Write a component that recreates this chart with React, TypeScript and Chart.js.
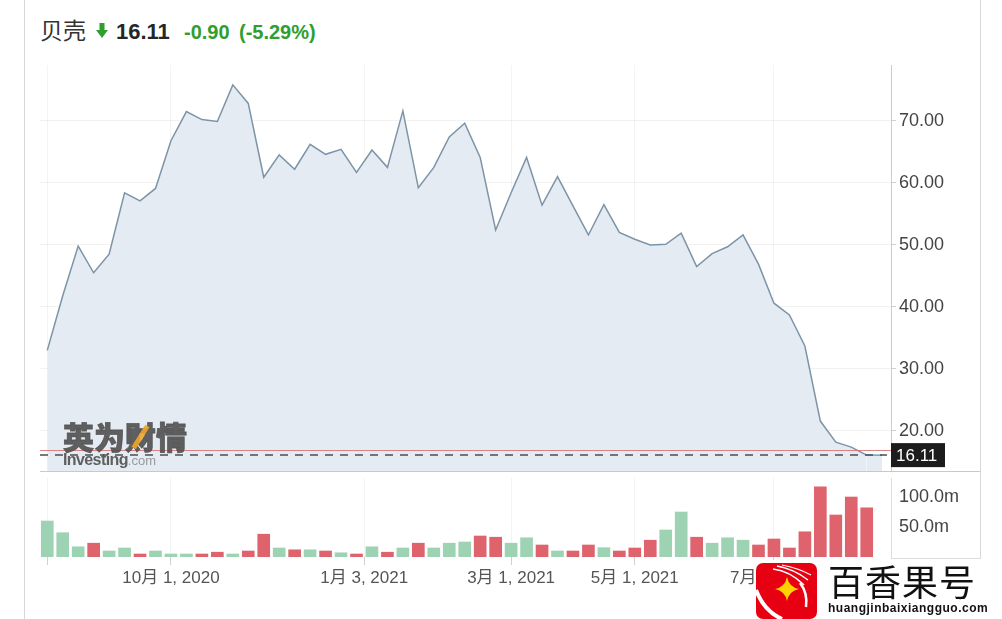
import React, { useEffect, useRef } from 'react';
import { Chart, registerables } from 'chart.js';

Chart.register(...registerables);

// ---- data ----
const STOCK_NAME = '贝壳';
const LAST_PRICE = 16.11;
const PREV_CLOSE = 17.01;
const CHANGE = -0.9;
const CHANGE_PCT = -5.29;

const PRICES = [
  33.0, 41.8, 49.8, 45.5, 48.5, 58.4, 57.1, 59.1, 66.8, 71.5,
  70.2, 69.9, 75.8, 72.8, 60.9, 64.5, 62.2, 66.2, 64.6, 65.4,
  61.7, 65.3, 62.5, 71.6, 59.2, 62.5, 67.4, 69.6, 64.1, 52.4,
  58.4, 64.1, 56.4, 61.0, 56.3, 51.6, 56.5, 52.0, 50.9, 50.0,
  50.1, 51.9, 46.5, 48.6, 49.7, 51.6, 46.9, 40.6, 38.7, 33.7,
  21.6, 18.2, 17.4, 16.11, 16.11,
];

const VOLUMES = [
  60, 40.5, 17, 23, 10, 15, 5, 10, 5, 5,
  5, 8, 5, 10, 38, 15, 12, 12, 10, 7,
  5, 17, 8, 15, 23, 15, 23, 25, 35, 33,
  23, 32, 20, 10, 10, 20, 15.5, 10, 15, 28,
  45, 75, 33, 23, 32, 28, 20, 30, 15, 42,
  117, 70, 100, 82,
];

const X_TICK_POS = [0, 8, 20.5, 30, 38, 47];
const X_TICK_LABELS = ['', '10月 1, 2020', '1月 3, 2021', '3月 1, 2021', '5月 1, 2021', '7月 1, 2021'];
const PRICE_TICKS = [20, 30, 40, 50, 60, 70];
const VOLUME_TICKS = [50, 100];

// ---- scale ranges / styling ----
const X_MIN = -0.47;
const X_MAX = 54.57;
const PRICE_MIN = 13.55;
const PRICE_MAX = 79.0;
const VOL_MAX = 131.7;

const FONT = "'Liberation Sans', Arial, 'Noto Sans CJK SC', sans-serif";
const CJK = "'Noto Sans CJK SC', 'Liberation Sans', sans-serif";
const GREEN_TXT = '#2f9e2f';
const UP_COLOR = '#9dd2b3';
const DOWN_COLOR = '#df636c';

const pricePlugin = {
  id: 'priceMarks',
  afterDatasetsDraw(chart: any) {
    const { ctx, chartArea: a } = chart;
    const y = chart.scales.y;
    ctx.save();
    const yr = Math.round(y.getPixelForValue(PREV_CLOSE)) + 0.5;
    ctx.strokeStyle = 'rgba(214,112,112,0.85)';
    ctx.lineWidth = 1;
    ctx.beginPath();
    ctx.moveTo(a.left, yr);
    ctx.lineTo(a.right, yr);
    ctx.stroke();
    const yl = y.getPixelForValue(LAST_PRICE);
    ctx.setLineDash([8, 7]);
    ctx.strokeStyle = '#4d4d4d';
    ctx.lineWidth = 1.5;
    ctx.beginPath();
    ctx.moveTo(a.left, yl);
    ctx.lineTo(a.right - 4, yl);
    ctx.stroke();
    ctx.setLineDash([]);
    ctx.strokeStyle = '#c9c9c9';
    ctx.lineWidth = 1;
    ctx.beginPath();
    ctx.moveTo(a.left, Math.round(a.bottom) + 0.5);
    ctx.lineTo(chart.width, Math.round(a.bottom) + 0.5);
    ctx.stroke();
    ctx.fillStyle = '#1c1c1c';
    ctx.fillRect(a.right, yl - 12, 54, 24);
    ctx.fillStyle = '#ffffff';
    ctx.font = `17px ${FONT}`;
    ctx.textAlign = 'left';
    ctx.textBaseline = 'middle';
    ctx.fillText(LAST_PRICE.toFixed(2), a.right + 5, yl + 1);
    ctx.restore();
  },
};

function PriceChart() {
  const ref = useRef<HTMLCanvasElement>(null);
  useEffect(() => {
    if (!ref.current) return;
    const last = PRICES.length - 1;
    const chart = new Chart(ref.current, {
      type: 'line',
      data: {
        datasets: [
          {
            data: PRICES.map((v, i) => ({ x: i, y: v })),
            borderColor: '#7d94a7',
            borderWidth: 1.5,
            backgroundColor: '#e4ebf3',
            fill: 'start',
            pointRadius: 0,
            tension: 0,
            segment: {
              borderColor: (c: any) => (c.p1DataIndex === last ? '#5fa9b8' : undefined),
            },
          } as any,
        ],
      },
      options: {
        animation: false,
        responsive: false,
        events: [],
        layout: { padding: { top: 10, bottom: 2, left: 0, right: 0 } },
        plugins: { legend: { display: false }, tooltip: { enabled: false } },
        scales: {
          x: {
            type: 'linear',
            min: X_MIN,
            max: X_MAX,
            offset: false,
            afterBuildTicks: (s: any) => {
              s.ticks = X_TICK_POS.map((v) => ({ value: v }));
            },
            ticks: { display: false },
            grid: { color: 'rgba(0,0,0,0.045)', drawTicks: false },
            border: { display: false },
            afterFit: (s: any) => {
              s.height = 0;
              s.paddingLeft = 0;
              s.paddingRight = 0;
            },
          },
          y: {
            position: 'right',
            min: PRICE_MIN,
            max: PRICE_MAX,
            afterBuildTicks: (s: any) => {
              s.ticks = PRICE_TICKS.map((v) => ({ value: v }));
            },
            ticks: {
              callback: (v: any) => Number(v).toFixed(2),
              color: '#444',
              font: { size: 18, family: FONT },
              padding: 3,
            },
            grid: { color: 'rgba(0,0,0,0.05)', tickColor: '#d0d0d0', tickLength: 5 },
            border: { display: true, color: '#cccccc' },
            afterFit: (s: any) => {
              s.width = 89;
              s.paddingTop = 0;
              s.paddingBottom = 0;
            },
          },
        },
      } as any,
      plugins: [pricePlugin],
    });
    return () => chart.destroy();
  }, []);
  return (
    <canvas
      ref={ref}
      width={940}
      height={418}
      style={{ position: 'absolute', left: 40, top: 55, width: 940, height: 418 }}
    />
  );
}

function VolumeChart() {
  const ref = useRef<HTMLCanvasElement>(null);
  useEffect(() => {
    if (!ref.current) return;
    const colors = VOLUMES.map((_, i) => (i === 0 || PRICES[i] >= PRICES[i - 1] ? UP_COLOR : DOWN_COLOR));
    const chart = new Chart(ref.current, {
      type: 'bar',
      data: {
        datasets: [
          {
            data: VOLUMES.map((v, i) => ({ x: i, y: v })),
            backgroundColor: colors,
            borderWidth: 0,
            barThickness: 12,
          } as any,
        ],
      },
      options: {
        animation: false,
        responsive: false,
        events: [],
        layout: { padding: { top: 5, bottom: 0, left: 0, right: 0 } },
        plugins: { legend: { display: false }, tooltip: { enabled: false } },
        scales: {
          x: {
            type: 'linear',
            min: X_MIN,
            max: X_MAX,
            offset: false,
            afterBuildTicks: (s: any) => {
              s.ticks = X_TICK_POS.map((v) => ({ value: v }));
            },
            ticks: {
              callback: (_v: any, i: number) => X_TICK_LABELS[i],
              color: '#555',
              font: { size: 17, family: FONT },
              padding: 3,
              autoSkip: false,
              maxRotation: 0,
            },
            grid: { offset: false, color: 'rgba(0,0,0,0.045)', tickColor: '#d0d0d0', tickLength: 8 },
            border: { display: false },
            afterFit: (s: any) => {
              s.height = 62;
              s.paddingLeft = 0;
              s.paddingRight = 0;
            },
          },
          y: {
            position: 'right',
            min: 0,
            max: VOL_MAX,
            afterBuildTicks: (s: any) => {
              s.ticks = VOLUME_TICKS.map((v) => ({ value: v }));
            },
            ticks: {
              callback: (v: any) => Number(v).toFixed(1) + 'm',
              color: '#444',
              font: { size: 18, family: FONT },
              padding: 3,
            },
            grid: { color: 'rgba(0,0,0,0)', tickColor: 'rgba(0,0,0,0)', tickLength: 5 },
            border: { display: true, color: '#dddddd' },
            afterFit: (s: any) => {
              s.width = 89;
              s.paddingTop = 0;
              s.paddingBottom = 0;
            },
          },
        },
      } as any,
    });
    return () => chart.destroy();
  }, []);
  return (
    <canvas
      ref={ref}
      width={940}
      height={146}
      style={{ position: 'absolute', left: 40, top: 473, width: 940, height: 146 }}
    />
  );
}

function Logo() {
  return (
    <div style={{ position: 'absolute', left: 756, top: 560, width: 246, height: 59, background: '#fff' }}>
      <svg width="61" height="56" viewBox="0 0 61 56" style={{ position: 'absolute', left: 0, top: 3 }}>
        <rect x="0" y="0" width="61" height="56" rx="7" fill="#e60012" />
        <path d="M0 27 Q 8 48 26 56" stroke="#fff" strokeWidth="4" fill="none" />
        <path d="M17 6 Q 34 8 48 22" stroke="#fff" strokeWidth="1.6" fill="none" />
        <path d="M21 3 Q 38 6 52 17" stroke="#fff" strokeWidth="1.4" fill="none" />
        <path d="M26 2 Q 42 5 55 12" stroke="#fff" strokeWidth="1.2" fill="none" />
        <path d="M44 20 Q 52 30 50 44" stroke="#fff" strokeWidth="2.5" fill="none" />
        <path d="M31 14 Q 33 24 43 26 Q 33 28 31 38 Q 29 28 19 26 Q 29 24 31 14 Z" fill="#ffd200" />
      </svg>
      <div
        style={{
          position: 'absolute',
          left: 72,
          top: 2,
          fontFamily: CJK,
          fontSize: 36,
          lineHeight: 1,
          color: '#111',
          letterSpacing: 1,
        }}
      >
        百香果号
      </div>
      <div
        style={{
          position: 'absolute',
          left: 72,
          top: 42,
          fontFamily: FONT,
          fontSize: 12,
          fontWeight: 700,
          lineHeight: 1,
          color: '#111',
          letterSpacing: 0.5,
        }}
      >
        huangjinbaixiangguo.com
      </div>
    </div>
  );
}

export default function App() {
  const chg = CHANGE.toFixed(2);
  const pct = `(${CHANGE_PCT.toFixed(2)}%)`;
  return (
    <div
      style={{
        position: 'absolute',
        left: 0,
        top: 0,
        width: 1002,
        height: 619,
        overflow: 'hidden',
        background: '#fff',
        fontFamily: FONT,
      }}
    >
      <div style={{ position: 'absolute', left: 24, top: 0, width: 1, height: 619, background: '#d8d8d8' }} />
      <div style={{ position: 'absolute', left: 980, top: 0, width: 1, height: 559, background: '#d8d8d8' }} />
      <div style={{ position: 'absolute', left: 891, top: 558, width: 90, height: 1, background: '#dddddd' }} />

      <div style={{ position: 'absolute', left: 40, top: 18, fontFamily: CJK, fontSize: 23, lineHeight: 1, color: '#333' }}>
        {STOCK_NAME}
      </div>
      <svg width="12" height="15" viewBox="0 0 12 15" style={{ position: 'absolute', left: 96, top: 23 }}>
        <rect x="3.5" y="0" width="5" height="8" fill={GREEN_TXT} />
        <polygon points="0,7 12,7 6,15" fill={GREEN_TXT} />
      </svg>
      <div style={{ position: 'absolute', left: 116, top: 21, fontSize: 22, fontWeight: 700, lineHeight: 1, color: '#262626' }}>
        {LAST_PRICE.toFixed(2)}
      </div>
      <div style={{ position: 'absolute', left: 184, top: 22, fontSize: 20, fontWeight: 700, lineHeight: 1, color: GREEN_TXT }}>
        {chg}
      </div>
      <div style={{ position: 'absolute', left: 239, top: 22, fontSize: 20, fontWeight: 700, lineHeight: 1, color: GREEN_TXT }}>
        {pct}
      </div>

      <PriceChart />
      <VolumeChart />

      <div
        style={{
          position: 'absolute',
          left: 63,
          top: 420,
          fontFamily: CJK,
          fontSize: 31,
          fontWeight: 900,
          lineHeight: 1,
          color: 'rgba(80,80,80,0.9)',
          WebkitTextStroke: '0.8px rgba(80,80,80,0.9)',
        }}
      >
        英为财情
      </div>
      <div
        style={{
          position: 'absolute',
          left: 138,
          top: 424,
          width: 5,
          height: 26,
          background: 'rgba(240,165,40,0.9)',
          transform: 'rotate(32deg)',
        }}
      />
      <div style={{ position: 'absolute', left: 63, top: 452, lineHeight: 1, whiteSpace: 'nowrap' }}>
        <span style={{ fontSize: 16, fontWeight: 700, color: 'rgba(80,80,80,0.9)', letterSpacing: -0.6 }}>Investing</span>
        <span style={{ fontSize: 13, color: 'rgba(120,120,120,0.7)' }}>.com</span>
      </div>

      <Logo />
    </div>
  );
}
